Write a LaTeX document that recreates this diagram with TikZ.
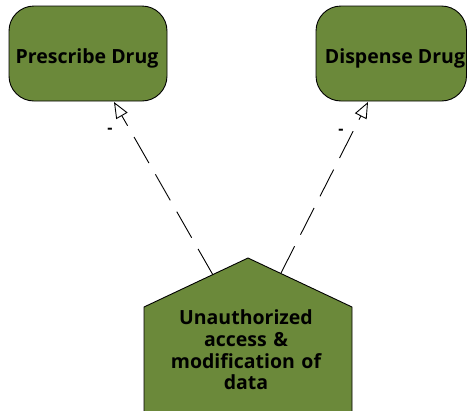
\documentclass[tikz,border=0pt]{standalone}
\usepackage{fontspec}
\setmainfont{Open Sans}
\usetikzlibrary{arrows.meta}
\definecolor{olive}{RGB}{107,137,58}
\tikzset{
  goal/.style={draw=black, line width=0.9pt, fill=olive, rounded corners=25pt},
  lbl/.style={font=\fontsize{19.5}{21.7}\selectfont\bfseries, text=black, inner sep=0pt},
  link/.style={draw=black, line width=0.9pt, dash pattern=on 30pt off 13pt,
    -{Triangle[open, length=16pt, width=13pt, line width=0.9pt]}},
  minus/.style={font=\fontsize{16}{18}\selectfont\bfseries, inner sep=0pt}
}
\begin{document}
\begin{tikzpicture}[x=1pt, y=-1pt]
  \clip (0,0) rectangle (468,410);
  % rounded goal boxes
  \draw[goal] (9,6) rectangle (167,101);
  \node[lbl, anchor=base] (prescribe) at (87,63) {Prescribe Drug};
  \draw[goal] (316,6) rectangle (466.5,101);
  \node[lbl, anchor=base] (dispense) at (395,63) {Dispense Drug};
  % pentagon threat shape, running off the bottom edge
  \draw[line width=0.9pt, fill=olive] (144,420) -- (144,307) -- (248,258) -- (352,307) -- (352,420);
  \node[lbl, align=center, text width=170pt] (threat) at (246,350)
    {Unauthorized\\access \&\\modification of\\data};
  % connector end points
  \coordinate (t1) at (213,275);
  \coordinate (t2) at (281,273);
  \coordinate (p1) at (114,102);
  \coordinate (d1) at (368,102);
  \draw[link] (t1) -- (p1);
  \draw[link] (t2) -- (d1);
  \node[minus] (m1) at (110,131) {-};
  \node[minus] (m2) at (341,132) {-};
\end{tikzpicture}
\end{document}
